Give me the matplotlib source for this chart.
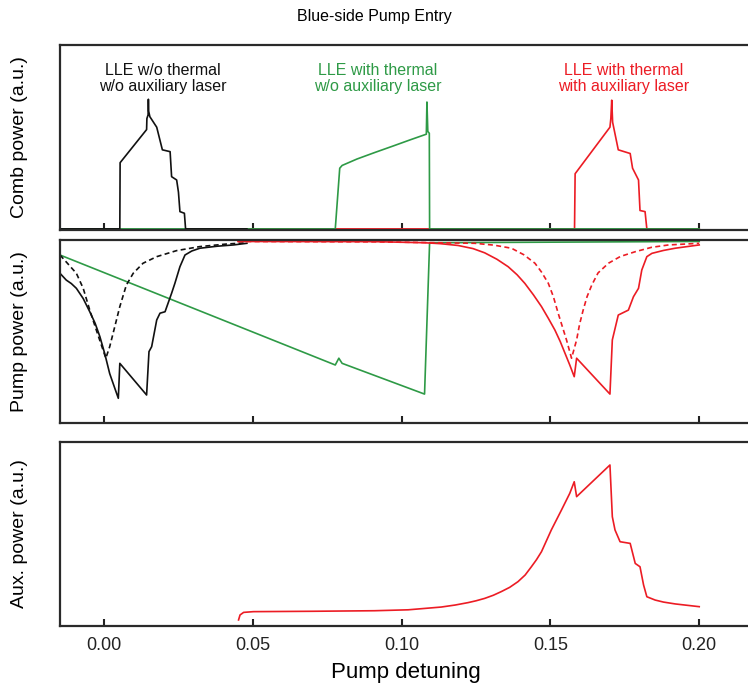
import matplotlib
matplotlib.use("Agg")
import matplotlib.pyplot as plt

plt.rcParams['font.family'] = ['Liberation Sans', 'DejaVu Sans']

# ---------------- data ----------------
# Comb power (top)
comb_black_x = [-0.0148, 0.0053, 0.0054, 0.0143, 0.0144, 0.0148, 0.0149, 0.0150, 0.0154, 0.0177,
                0.0196, 0.0222, 0.0227, 0.0244, 0.0250, 0.0255, 0.0270, 0.0274, 0.048]
comb_black_y = [0, 0, 0.36, 0.54, 0.60, 0.62, 0.705, 0.64, 0.61, 0.553,
                0.43, 0.42, 0.284, 0.266, 0.20, 0.094, 0.085, 0, 0]

comb_green_x = [-0.0148, 0.0777, 0.0792, 0.0800, 0.085, 0.0909, 0.097, 0.103, 0.1083, 0.1085,
                0.1088, 0.1093, 0.1094, 0.200]
comb_green_y = [0, 0, 0.33, 0.345, 0.38, 0.415, 0.45, 0.485, 0.515, 0.69,
                0.53, 0.52, 0, 0]

comb_red_x = [0.045, 0.1581, 0.1583, 0.1700, 0.1703, 0.1706, 0.1709, 0.1728, 0.1768, 0.1776,
              0.1796, 0.1801, 0.1818, 0.1824, 0.200]
comb_red_y = [0, 0, 0.30, 0.553, 0.60, 0.70, 0.58, 0.43, 0.41, 0.33,
              0.266, 0.10, 0.094, 0, 0]

# Pump power (middle)
pump_black_x = [-0.0148, -0.0127, -0.0110, -0.0093, -0.0070, -0.0048, -0.0030, -0.0014, 0.0003, 0.0019,
                0.0034, 0.0048, 0.0053, 0.0143, 0.0151, 0.0160, 0.0177, 0.0188, 0.0205, 0.0227,
                0.0238, 0.0255, 0.0272, 0.0295, 0.0322, 0.0380, 0.0435, 0.048]
pump_black_y = [0.818, 0.781, 0.762, 0.736, 0.680, 0.608, 0.545, 0.472, 0.375, 0.27,
                0.200, 0.135, 0.326, 0.153, 0.39, 0.417, 0.563, 0.60, 0.608, 0.709,
                0.763, 0.854, 0.918, 0.940, 0.955, 0.966, 0.973, 0.982]

pump_black_lin_x = [-0.0148, -0.0127, -0.0093, -0.0070, -0.0048, -0.0026, -0.0009, 0.0006, 0.0019, 0.0036,
                    0.0053, 0.0075, 0.0098, 0.0131, 0.0177, 0.0244, 0.0322, 0.0412, 0.048]
pump_black_lin_y = [0.918, 0.88, 0.818, 0.736, 0.617, 0.508, 0.426, 0.354, 0.417, 0.526,
                    0.636, 0.754, 0.818, 0.873, 0.909, 0.942, 0.964, 0.978, 0.985]

pump_green_x = [-0.0148, 0.0777, 0.0789, 0.0800, 0.1077, 0.1094, 0.200]
pump_green_y = [0.918, 0.317, 0.354, 0.326, 0.158, 0.985, 0.992]

pump_red_x = [0.045, 0.0909, 0.1077, 0.113, 0.119, 0.124, 0.1279, 0.132, 0.1358, 0.1388,
              0.1414, 0.1443, 0.147, 0.1493, 0.1515, 0.1533, 0.1549, 0.1565, 0.158, 0.1588,
              0.170, 0.1708, 0.1728, 0.1762, 0.1779, 0.1796, 0.1807, 0.1824, 0.1841, 0.1880,
              0.1919, 0.200]
pump_red_y = [0.992, 0.991, 0.985, 0.980, 0.970, 0.953, 0.930, 0.895, 0.854, 0.810,
              0.763, 0.700, 0.636, 0.572, 0.508, 0.445, 0.381, 0.317, 0.253, 0.354,
              0.158, 0.454, 0.59, 0.617, 0.69, 0.736, 0.836, 0.909, 0.927, 0.943,
              0.955, 0.973]

pump_red_lin_x = [0.045, 0.0909, 0.1246, 0.131, 0.1369, 0.141, 0.1448, 0.147, 0.1493, 0.151,
                  0.1526, 0.1554, 0.1571, 0.1588, 0.1598, 0.161, 0.1623, 0.1639, 0.166, 0.1695,
                  0.1735, 0.1785, 0.184, 0.1897, 0.200]
pump_red_lin_y = [0.992, 0.99, 0.982, 0.972, 0.955, 0.92, 0.873, 0.825, 0.763, 0.69,
                  0.60, 0.454, 0.354, 0.454, 0.54, 0.617, 0.69, 0.754, 0.82, 0.873,
                  0.91, 0.936, 0.96, 0.973, 0.982]

# Aux power (bottom)
aux_x = [0.0452, 0.0457, 0.0469, 0.0502, 0.0700, 0.0909, 0.1022, 0.1133, 0.1180, 0.1223,
         0.1250, 0.1279, 0.1308, 0.1335, 0.1363, 0.1391, 0.1415, 0.1436, 0.1453, 0.147,
         0.1503, 0.1537, 0.1565, 0.158, 0.1588, 0.170, 0.1708, 0.1717, 0.1734, 0.1768,
         0.1785, 0.1801, 0.1813, 0.1824, 0.1852, 0.1880, 0.1919, 0.200]
aux_y = [0.033, 0.06, 0.074, 0.078, 0.080, 0.083, 0.088, 0.103, 0.114, 0.127,
         0.137, 0.15, 0.167, 0.187, 0.21, 0.241, 0.277, 0.322, 0.36, 0.404,
         0.522, 0.63, 0.721, 0.784, 0.703, 0.875, 0.594, 0.522, 0.458, 0.449,
         0.34, 0.322, 0.223, 0.159, 0.141, 0.130, 0.12, 0.105]

xticks = [0.00, 0.05, 0.10, 0.15, 0.20]
xtick_labels = ['0.00', '0.05', '0.10', '0.15', '0.20']

BLACK = '#111111'
GREEN = '#2e9a46'
RED = '#ec1c24'
LW = 1.2

# ---------------- figure ----------------
W, H = 748, 692
fig = plt.figure(figsize=(W / 100, H / 100), dpi=100)

def ax_rect(top, bottom, left=60, right=751):
    return [left / W, 1 - bottom / H, (right - left) / W, (bottom - top) / H]

ax1 = fig.add_axes(ax_rect(45, 230))
ax2 = fig.add_axes(ax_rect(240, 423))
ax3 = fig.add_axes(ax_rect(442, 626))

for ax in (ax1, ax2, ax3):
    ax.set_xlim(-0.0148, 0.2174)
    ax.set_xticks(xticks)
    ax.set_yticks([])
    ax.tick_params(axis='x', direction='in', length=5, width=1.5, colors='#222222',
                   labelsize=13, pad=8)
    for s in ax.spines.values():
        s.set_linewidth(1.6)
        s.set_color('#2a2a2a')

ax1.set_xticklabels([])
ax2.set_xticklabels([])
ax3.set_xticklabels(xtick_labels)

# top
ax1.plot(comb_red_x, comb_red_y, color=RED, lw=LW)
ax1.plot(comb_green_x, comb_green_y, color=GREEN, lw=LW)
ax1.plot(comb_black_x, comb_black_y, color=BLACK, lw=LW)
ax1.set_ylim(-0.006, 1.0)

# middle
ax2.plot(pump_green_x, pump_green_y, color=GREEN, lw=LW)
ax2.plot(pump_black_lin_x, pump_black_lin_y, color=BLACK, lw=LW, dashes=(3, 2))
ax2.plot(pump_black_x, pump_black_y, color=BLACK, lw=LW)
ax2.plot(pump_red_lin_x, pump_red_lin_y, color=RED, lw=LW, dashes=(3, 2))
ax2.plot(pump_red_x, pump_red_y, color=RED, lw=LW)
ax2.set_ylim(0, 1.0)

# bottom
ax3.plot(aux_x, aux_y, color=RED, lw=LW)
ax3.set_ylim(0, 1.0)

# labels
ax1.set_ylabel('Comb power (a.u.)', fontsize=14)
ax2.set_ylabel('Pump power (a.u.)', fontsize=14)
ax3.set_ylabel('Aux. power (a.u.)', fontsize=14)
ax3.set_xlabel('Pump detuning', fontsize=16, labelpad=6)

for ax in (ax1, ax2, ax3):
    ax.yaxis.set_label_coords(-0.046, 0.5)

fig.text(0.5, 1 - 17 / H, 'Blue-side Pump Entry', ha='center', va='center', fontsize=11.5)

ax1.text(0.0198, 0.82, 'LLE w/o thermal\nw/o auxiliary laser', color=BLACK,
         ha='center', va='center', fontsize=11.5, linespacing=1.1)
ax1.text(0.0921, 0.82, 'LLE with thermal\nw/o auxiliary laser', color=GREEN,
         ha='center', va='center', fontsize=11.5, linespacing=1.1)
ax1.text(0.1747, 0.82, 'LLE with thermal\nwith auxiliary laser', color=RED,
         ha='center', va='center', fontsize=11.5, linespacing=1.1)

fig.savefig('out.png', dpi=100)
